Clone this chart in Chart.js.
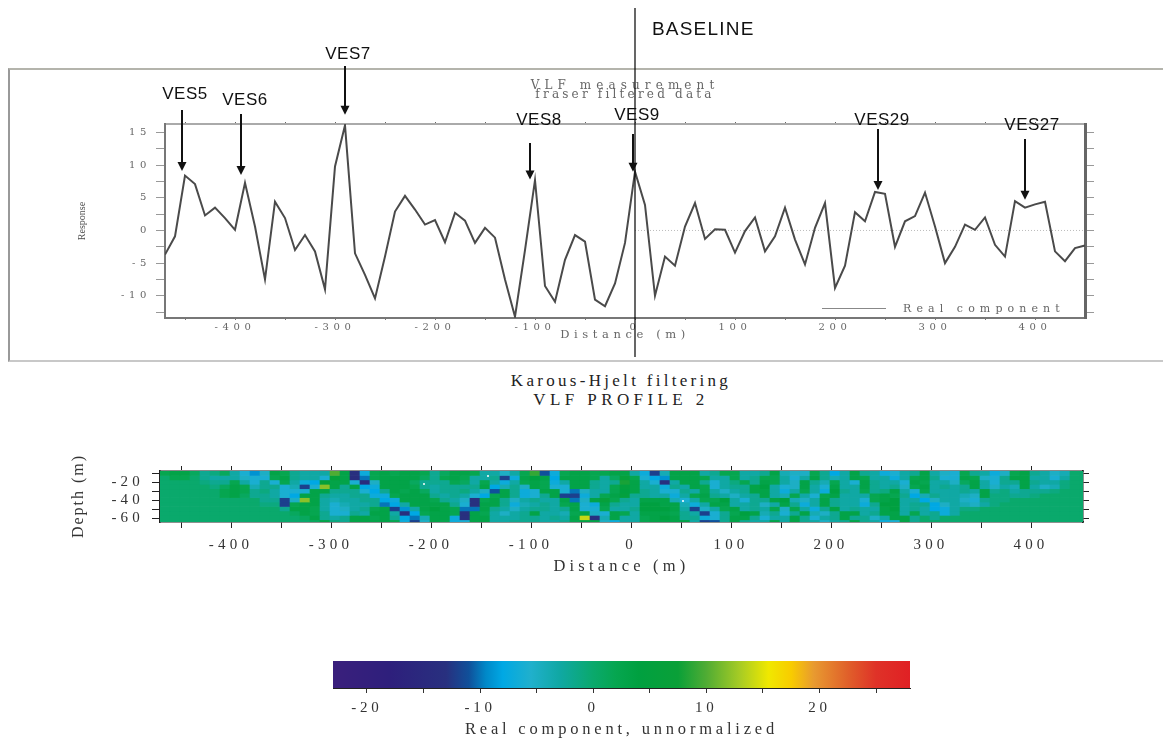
<!DOCTYPE html>
<html>
<head>
<meta charset="utf-8">
<title>VLF profile 2</title>
<script src="https://cdn.jsdelivr.net/npm/chart.js@4/dist/chart.umd.min.js"></script>
<style>
  html, body { margin: 0; padding: 0; background: #fff; overflow: hidden; }
  #page { position: relative; width: 1163px; height: 742px; }
  .box { position: absolute; }
  .box span { display: block; white-space: nowrap; }
  canvas { position: absolute; left: 0; }
  #frame { left: 8px; top: 68px; width: 1155px; height: 290px; box-sizing: content-box;
           border-left: 2px solid #999; border-top: 2px solid #b4b4ac; border-bottom: 2px solid #c8c8c8; }
  #titleTop { left: 425px; top: 81px; width: 400px; text-align: center; color: #666;
              font: 12px/9px "DejaVu Serif", serif; filter: blur(.4px); }
  #titleMid { left: 421px; top: 371px; width: 400px; text-align: center; color: #222;
              font: 17px/19px "Liberation Serif", serif; }
  #responseLabel { left: 82px; top: 221px; width: 60px; margin-left: -30px; margin-top: -7px; text-align: center; color: #555;
              font: 10px/14px "Liberation Serif", serif; transform: rotate(-90deg); filter: blur(.3px); }
  #depthLabel { left: 78px; top: 496px; width: 120px; margin-left: -60px; margin-top: -10px; text-align: center; color: #333;
              font: 16px/20px "Liberation Serif", serif; letter-spacing: 2px; transform: rotate(-90deg); filter: blur(.3px); }
  #topChart { top: 0; width: 1163px; height: 365px; }
  #heatChart { top: 440px; width: 1163px; height: 137px; filter: blur(.6px); }
  #barChart { top: 650px; width: 1163px; height: 92px; filter: blur(.25px); }
</style>
</head>
<body>
<div id="page">
  <div class="box" id="frame"></div>
  <div class="box" id="titleTop"><span style="letter-spacing:5.1px">VLF measurement</span><span style="letter-spacing:3.2px">fraser filtered data</span></div>
  <div class="box" id="titleMid"><span style="letter-spacing:3.3px">Karous-Hjelt filtering</span><span style="letter-spacing:4.4px">VLF PROFILE 2</span></div>
  <div class="box" id="responseLabel">Response</div>
  <div class="box" id="depthLabel">Depth (m)</div>
  <canvas id="topChart" width="1163" height="365"></canvas>
  <canvas id="heatChart" width="1163" height="137"></canvas>
  <canvas id="barChart" width="1163" height="92"></canvas>
</div>
<script>
// Fraser filtered response
const responseDistance = [-470,-460,-450,-440,-430,-420,-410,-400,-390,-380,-370,-360,-350,-340,-330,-320,-310,-300,-290,-280,-270,-260,-250,-240,-230,-220,-210,-200,-190,-180,-170,-160,-150,-140,-130,-120,-110,-100,-90,-80,-70,-60,-50,-40,-30,-20,-10,0,10,20,30,40,50,60,70,80,90,100,110,120,130,140,150,160,170,180,190,200,210,220,230,240,250,260,270,280,290,300,310,320,330,340,350,360,370,380,390,400,410,420,430,440,450];
const responseValues = [-3.7,-0.9,8.4,7.1,2.3,3.5,1.9,0.1,7.3,0.6,-7.5,4.4,1.9,-3,-0.7,-3.2,-9,9.8,16.1,-3.5,-6.8,-10.4,-4,2.9,5.3,3.2,0.9,1.6,-1.8,2.7,1.5,-1.9,0.4,-1.1,-7.5,-13.2,-3,7.7,-8.5,-10.9,-4.5,-0.7,-1.7,-10.6,-11.6,-8.1,-1.9,9,3.9,-10,-4,-5.4,0.6,4.2,-1.3,0.2,0.1,-3.4,-0.1,2,-3.2,-0.9,3.5,-1.4,-5.2,0.4,4.2,-8.8,-5.4,2.8,1.4,5.9,5.6,-2.5,1.4,2.2,5.8,0.6,-5,-2.5,0.9,0.1,2,-2.2,-4,4.5,3.5,4,4.4,-3.2,-4.7,-2.7,-2.3];
const zeroLineDistance = [0, 450];
const zeroLineValues = [0, 0];

const topXTicks = [-450,-400,-350,-300,-250,-200,-150,-100,-50,0,50,100,150,200,250,300,350,400];
const topXLabels = [-400,-300,-200,-100,0,100,200,300,400];
const topYTicks = [-12.5,-10,-7.5,-5,-2.5,0,2.5,5,7.5,10,12.5,15];
const topYLabels = [-10,-5,0,5,10,15];

// VES stations marked on the upper plot
const vesNames = ['VES5','VES6','VES7','VES8','VES9','VES29','VES27'];
const vesDistance = [-453,-394,-290,-105,-2,243,390];
const vesArrowTip = [9.1,8.5,17.7,7.8,9,6.2,4.7];

// Karous-Hjelt section: one row per depth, one value per 10 m column
const cellFirstDistance = -466;
const cellWidth = 10;
const cellDepthStep = 5;
const rowDepths = [-7,-12,-17,-22,-27,-32,-37,-42,-47,-52,-57,-62];
const row1 = [2,3,3,1,-2,-1,1,-3,-6,-9, -5,3,2,-2,-3,-3,-3,10,3,-13, -7,2,3,2,3,3,2,-2,1,3, 3,2,-3,-3,-5,-3,2,9,-11,-7, 2,3,3,2,2,3,3,-3,-7,-12, -4,3,3,3,-3,-2,2,2,-3,-3, -2,3,-4,-5,-5,2,-2,-8,-3,3, -2,-3,-7,-6,-3,-2,3,-3,-5,-6, 2,-2,-3,-7,-5,2,3,-2,-3,-5, -4,0,0];
const row2 = [0,2,2,0,-2,-3,-3,-3,-5,-6, -6,2,3,-2,-3,-3,-6,6,3,-14, -10,2,3,3,3,3,1,-2,2,3, 2,-3,-3,-2,-12,-7,3,4,3,-8, 3,3,3,2,-3,1,6,2,-6,-8, -9,3,3,3,2,-3,-3,2,-3,-2, 2,2,-3,-6,-3,3,-2,-4,-3,3, 2,-3,-3,-7,-3,2,3,-2,-6,-6, 3,2,-5,-6,-2,3,3,-3,-3,-6, -3,0,0];
const row3 = [0,0,0,0,-1,-2,-2,2,-3,-6, -2,-6,2,-3,-7,-8,6,3,3,-6, -14,-5,3,3,3,1,-2,-2,-2,2, 1,-3,2,-3,-7,-3,2,3,2,-7, -3,3,3,-2,-3,-2,8,3,-3,-6, -13,-3,3,3,-2,-6,-3,-1,2,-2, 3,2,-3,-5,3,-2,-4,2,-3,-6, 3,-2,-3,-3,-6,3,2,-3,-3,-5, 1,3,-3,-6,-2,-2,3,-2,-3,-3, -1,0,0];
const row4 = [0,0,0,0,0,-1,1,3,2,-4, -2,-2,-6,-4,-12,-6,12,3,-2,3, -8,-7,3,3,3,2,-2,-3,-2,-2, -2,-2,3,-8,-4,-2,-5,3,2,-6, -6,3,3,-2,-3,2,5,3,-3,-3, -7,-2,-3,3,2,-6,-3,-2,-2,3, 4,-3,-6,-5,3,-3,-6,3,-3,-3, 3,-2,-3,-2,-5,2,3,-3,-2,-3, -2,3,-3,-5,-3,-4,3,-3,-5,-4, -1,0,0];
const row5 = [0,0,0,0,0,0,2,3,2,-2, -1,-3,-6,-6,-6,3,3,-2,-2,-2, -6,-8,-2,3,2,3,1,-3,-2,-2, -1,-3,-5,-11,3,-2,-7,-6,3,3, -6,-10,-5,-3,-3,2,4,3,-2,-3, -6,-6,-2,-3,2,-3,-5,-3,-2,3, 3,-3,-7,-3,2,-3,-7,4,-2,-3, 2,-2,-1,3,-3,-6,2,-3,-3,-3, -2,-3,3,-2,-1,-3,-2,-2,-2,-1, 0,0,0];
const row6 = [0,0,0,0,0,0,2,3,1,-2, -2,-3,-6,-8,3,3,-2,-3,-3,-2, -2,-7,-7,2,3,3,3,-2,-3,-2, -3,-6,-8,2,3,-2,-7,-6,-2,3, -12,-12,-7,-3,2,3,5,-2,-2,-3, -3,-7,-3,2,3,-2,-3,-5,-3,-2, 3,-3,-4,2,-3,-6,2,3,-3,-3, -3,2,3,2,-2,-8,-4,-2,-3,-3, -4,-5,3,-1,-1,-2,-2,-1,0,0, 0,0,0];
const row7 = [0,0,0,0,0,0,0,0,0,0, -2,-2,-12,-5,12,3,-3,-4,-3,-3, -2,-2,-8,-7,3,3,3,2,-2,-3, -5,-13,2,3,-2,-5,-3,-2,-3,-3, 3,-10,-5,3,6,2,-2,-3,3,3, 3,-4,-6,-3,2,2,4,-3,-6,-2, -2,3,4,-4,-5,-3,3,-2,-3,-3, -6,2,3,4,-3,-3,-8,-5,-3,-3, -5,-6,-2,-1,-1,0,0,0,0,0, 0,0,0];
const row8 = [0,0,0,0,0,0,0,0,0,0, -1,-1,-12,2,3,3,-3,-6,-4,-3, -3,-2,-10,-8,-3,3,3,3,3,-2, -6,-13,3,3,-2,-7,-4,-3,-2,-3, 2,3,-6,-7,3,-2,-3,-3,4,4, 3,3,-4,-7,-3,3,3,-3,-3,-2, -5,-3,3,-2,-7,-3,3,-2,-3,-3, -7,-2,4,4,-3,-2,-2,-8,-5,-3, -4,-5,-3,-1,0,0,0,0,0,0, 0,0,0];
const row9 = [0,0,0,0,0,0,0,0,0,0, 0,0,-2,3,3,2,-3,-6,-5,-3, -2,2,3,-12,-9,-3,3,4,3,2, -10,-10,3,-2,-3,-5,-3,-2,-2,-3, -2,3,-6,-6,2,-3,-3,-2,4,4, 4,3,-3,-12,-5,-3,2,3,-3,-2, -3,2,-5,2,-3,-7,-2,3,-3,-2, -3,-3,3,4,-3,-2,-3,-8,-7,-3, -1,-1,0,0,0,0,0,0,0,0, 0,0,0];
const row10 = [0,0,0,0,0,0,0,0,0,0, 0,0,0,1,3,2,-2,-6,-6,-2, -3,3,3,-3,-13,-8,2,3,3,2, -13,3,2,-3,-5,-3,-2,3,-3,-3, -4,2,3,-5,-6,3,2,-3,3,3, 3,2,-2,-3,-12,-6,-2,2,4,3, -4,-2,-6,-2,3,-4,-5,-2,3,3, -3,-2,3,3,-3,2,-3,-2,-7,-3, 0,0,0,0,0,0,0,0,0,0, 0,0,0];
const row11 = [0,0,0,0,0,0,0,0,0,0, 0,0,0,0,1,3,-2,-3,-2,3, 3,2,3,-2,-8,-10,-4,3,3,-7, -13,3,3,-3,-3,-3,-2,-2,-3,-2, -3,3,14,-13,-4,3,-3,-3,2,3, 4,3,-2,-2,-7,-6,-2,3,3,-2, -6,-3,-3,3,-2,-6,-3,-2,3,-2, -2,-5,-3,3,3,-2,0,-2,0,0, 0,0,0,0,0,0,0,0,0,0, 0,0,0];
const row12 = [0,0,0,0,0,0,0,0,0,0, 0,0,0,0,0,1,3,-1,-2,3, 3,3,3,2,-7,-12,-5,3,2,-7, -6,3,3,-3,-3,-2,-2,-2,-3,-3, -2,2,3,3,-5,-7,-3,-3,2,3, 3,3,3,-3,-12,-11,-2,3,-2,-3, -3,3,-3,3,-2,-3,-5,-3,-2,3, -2,-3,-7,-6,3,-2,0,0,0,0, 0,0,0,0,0,0,0,0,0,0, 0,0,0];
const heatRows = [row1,row2,row3,row4,row5,row6,row7,row8,row9,row10,row11,row12];

// small white specks in the section
const speckDistance = [-207,-143,52];
const speckDepth = [-21.7,-12.7,-40.8];

const heatXTicks = topXTicks;
const heatXLabels = topXLabels;
const heatYTicks = [-10,-20,-30,-40,-50,-60];
const heatYLabels = [-20,-40,-60];

// colour bar
const stopValues = [-23,-18,-13,-11,-9.5,-8,-5.5,-3,0,2,4,7.5,10,13,15.5,17.5,19.5,22.5,25,28];
const stopColours = ['#3a1f7c','#2e1f7c','#28307f','#10509a','#0088c8','#00a8e4','#20b0cc','#10a8a4','#0aa96c','#06a650','#00a040','#0aa038','#50ac34','#a8cc24','#f0e800','#f8cc00','#e89a30','#e0602a','#df3228','#e02024'];
const barTicks = [-20,-15,-10,-5,0,5,10,15,20,25];
const barLabels = [-20,-10,0,10,20];

Chart.defaults.animation = false;
Chart.defaults.responsive = false;
Chart.defaults.plugins.legend.display = false;
Chart.defaults.plugins.tooltip.enabled = false;

function hexToRgb(h) {
  return [1, 3, 5].map(i => parseInt(h.slice(i, i + 2), 16));
}

// value -> colour, same ramp as the colour bar
function colourFor(v) {
  let i = 0;
  while (i < stopValues.length - 2 && v > stopValues[i + 1]) i++;
  const t = Math.min(1, Math.max(0, (v - stopValues[i]) / (stopValues[i + 1] - stopValues[i])));
  const a = hexToRgb(stopColours[i]), b = hexToRgb(stopColours[i + 1]);
  return `rgb(${a.map((c, k) => Math.round(c + (b[k] - c) * t)).join(',')})`;
}

function tickSet(values) {
  return s => { s.ticks = values.map(v => ({ value: v })); };
}

function labelOnly(list) {
  return v => (list.includes(v) ? String(v) : '');
}

function spaced(px, blur) {
  return {
    id: 'spaced',
    beforeDraw(chart) {
      chart.ctx.letterSpacing = px + 'px';
      if (blur) chart.ctx.filter = `blur(${blur}px)`;
    },
    afterDraw(chart) {
      chart.ctx.letterSpacing = '0px';
      chart.ctx.filter = 'none';
    }
  };
}

// arrows, station names, baseline and the legend of the upper plot
const vesLabelPos = [[185,94],[245,100],[348,54],[539,120],[637,115],[882,120],[1032,125]];
const vesTailY = [110,114,66,143,134,129,139];
const notes = {
  id: 'notes',
  afterDraw(chart) {
    const { ctx, scales } = chart;
    ctx.save();
    // legend
    ctx.strokeStyle = '#888';
    ctx.lineWidth = 1;
    ctx.beginPath();
    ctx.moveTo(822, 308.5);
    ctx.lineTo(886, 308.5);
    ctx.stroke();
    ctx.fillStyle = '#666';
    ctx.font = '11px "DejaVu Serif"';
    ctx.letterSpacing = '5.1px';
    ctx.textAlign = 'left';
    ctx.textBaseline = 'middle';
    ctx.filter = 'blur(.4px)';
    ctx.fillText('Real component', 903, 309);
    ctx.filter = 'none';
    ctx.letterSpacing = '0px';

    // baseline through distance 0
    const bx = scales.x.getPixelForValue(0);
    ctx.strokeStyle = '#000';
    ctx.lineWidth = 1.2;
    ctx.beginPath();
    ctx.moveTo(bx, 8);
    ctx.lineTo(bx, 357);
    ctx.stroke();

    ctx.fillStyle = '#111';
    ctx.textAlign = 'left';
    ctx.font = '19px "Liberation Sans"';
    ctx.letterSpacing = '1.2px';
    ctx.fillText('BASELINE', 652, 30);

    ctx.textAlign = 'center';
    ctx.font = '17px "Liberation Sans"';
    ctx.letterSpacing = '0.5px';
    vesNames.forEach((name, i) => {
      const x = scales.x.getPixelForValue(vesDistance[i]);
      const tip = scales.y.getPixelForValue(vesArrowTip[i]);
      ctx.fillStyle = '#111';
      ctx.fillText(name, vesLabelPos[i][0], vesLabelPos[i][1]);
      ctx.strokeStyle = '#111';
      ctx.lineWidth = 2;
      ctx.beginPath();
      ctx.moveTo(x, vesTailY[i]);
      ctx.lineTo(x, tip - 6);
      ctx.stroke();
      ctx.beginPath();
      ctx.moveTo(x, tip);
      ctx.lineTo(x - 4.5, tip - 9);
      ctx.lineTo(x + 4.5, tip - 9);
      ctx.closePath();
      ctx.fill();
    });
    ctx.restore();
  }
};

const topFont = { family: '"DejaVu Serif"', size: 10 };

new Chart(document.getElementById('topChart'), {
  type: 'scatter',
  data: {
    datasets: [
      {
        data: responseDistance.map((d, i) => ({ x: d, y: responseValues[i] })),
        showLine: true, borderColor: '#4a4a4a', borderWidth: 2, pointRadius: 0, tension: 0, order: 1
      },
      {
        data: zeroLineDistance.map((d, i) => ({ x: d, y: zeroLineValues[i] })),
        showLine: true, borderColor: '#bdbdbd', borderWidth: 1, borderDash: [1, 2], pointRadius: 0, order: 2
      }
    ]
  },
  options: {
    layout: { padding: { left: 76, top: 118, right: 0, bottom: 23 } },
    scales: {
      x: {
        type: 'linear', min: -470, max: 450, position: 'bottom',
        afterBuildTicks: tickSet(topXTicks),
        afterFit: s => { s.height = 24; },
        grid: { drawOnChartArea: false, tickLength: 2, tickColor: '#777' },
        border: { color: '#777', width: 2 },
        ticks: { callback: labelOnly(topXLabels), autoSkip: false, maxRotation: 0, color: '#666', font: topFont, padding: 1 },
        title: { display: true, text: 'Distance (m)', color: '#666', font: { family: '"DejaVu Serif"', size: 11.5 }, padding: 0 }
      },
      x2: {
        type: 'linear', axis: 'x', min: -470, max: 450, position: 'top',
        afterBuildTicks: tickSet(topXTicks),
        afterFit: s => { s.height = 6; },
        grid: { drawOnChartArea: false, tickLength: 2, tickColor: '#666' },
        border: { color: '#aaa', width: 2 },
        ticks: { callback: () => '', autoSkip: false, maxRotation: 0, padding: 0 }
      },
      y: {
        type: 'linear', min: -13.4, max: 16.3,
        afterBuildTicks: tickSet(topYTicks),
        afterFit: s => { s.width = 89; },
        grid: { drawOnChartArea: false, tickLength: 9, tickColor: '#999' },
        border: { color: '#777', width: 2 },
        ticks: { callback: labelOnly(topYLabels), autoSkip: false, color: '#666', font: topFont, padding: 5 }
      },
      y2: {
        type: 'linear', axis: 'y', min: -13.4, max: 16.3, position: 'right',
        afterBuildTicks: tickSet(topYTicks),
        afterFit: s => { s.width = 78; },
        grid: { drawOnChartArea: false, tickLength: 9, tickColor: '#999' },
        border: { color: '#666', width: 3 },
        ticks: { callback: () => '', autoSkip: false }
      }
    }
  },
  plugins: [spaced(4.6, 0.5), notes]
});

const heatFont = { family: '"Liberation Serif"', size: 15 };

new Chart(document.getElementById('heatChart'), {
  type: 'bar',
  data: {
    datasets: [
      {
        type: 'scatter',
        data: speckDistance.map((d, i) => ({ x: d, y: speckDepth[i] })),
        pointRadius: 1, pointBackgroundColor: '#fff', pointBorderWidth: 0, order: 0
      },
      ...heatRows.map((row, r) => ({
        data: row.map((v, c) => ({
          x: cellFirstDistance + c * cellWidth,
          y: [rowDepths[r], rowDepths[r] - cellDepthStep],
          v
        })),
        backgroundColor: ctx => colourFor(ctx.raw.v),
        barPercentage: 1, categoryPercentage: 1, grouped: false, order: 1
      }))
    ]
  },
  options: {
    layout: { padding: { left: 68, top: 25, right: 0, bottom: 0 } },
    scales: {
      x: {
        type: 'linear', min: -471, max: 452, position: 'bottom', offset: false,
        afterBuildTicks: tickSet(heatXTicks),
        afterFit: s => { s.height = 55; },
        grid: { drawOnChartArea: false, offset: false, tickLength: 6, tickColor: '#222' },
        border: { color: '#222', width: 1.5 },
        ticks: { callback: labelOnly(heatXLabels), autoSkip: false, maxRotation: 0, color: '#333', font: heatFont, padding: 8 },
        title: { display: true, text: 'Distance (m)', color: '#333', font: { family: '"Liberation Serif"', size: 16.5 }, padding: 0 }
      },
      x2: {
        type: 'linear', axis: 'x', min: -471, max: 452, position: 'top', offset: false,
        afterBuildTicks: tickSet(heatXTicks),
        afterFit: s => { s.height = 6; },
        grid: { drawOnChartArea: false, offset: false, tickLength: 5, tickColor: '#222' },
        border: { color: '#888', width: 2 },
        ticks: { callback: () => '', autoSkip: false, maxRotation: 0, padding: 0 }
      },
      y: {
        type: 'linear', min: -64.5, max: -7,
        afterBuildTicks: tickSet(heatYTicks),
        afterFit: s => { s.width = 92; },
        grid: { drawOnChartArea: false, tickLength: 8, tickColor: '#222' },
        border: { color: '#222', width: 1.5 },
        ticks: { callback: labelOnly(heatYLabels), autoSkip: false, color: '#333', font: heatFont, padding: 8 }
      },
      y2: {
        type: 'linear', axis: 'y', min: -64.5, max: -7, position: 'right',
        afterBuildTicks: tickSet(heatYTicks),
        afterFit: s => { s.width = 80; },
        grid: { drawOnChartArea: false, tickLength: 6, tickColor: '#222' },
        border: { color: '#222', width: 1.5 },
        ticks: { callback: () => '', autoSkip: false }
      }
    }
  },
  plugins: [spaced(4.2, 0)]
});

new Chart(document.getElementById('barChart'), {
  type: 'bar',
  data: {
    labels: ['Real component'],
    datasets: [{
      data: [[stopValues[0], stopValues[stopValues.length - 1]]],
      barPercentage: 1,
      categoryPercentage: 1,
      backgroundColor: ctx => {
        const chart = ctx.chart;
        if (!chart.chartArea) return stopColours[0];
        const x = chart.scales.x;
        const first = stopValues[0], last = stopValues[stopValues.length - 1];
        const g = chart.ctx.createLinearGradient(x.getPixelForValue(first), 0, x.getPixelForValue(last), 0);
        stopValues.forEach((v, i) => g.addColorStop((v - first) / (last - first), stopColours[i]));
        return g;
      }
    }]
  },
  options: {
    indexAxis: 'y',
    layout: { padding: { left: 333, top: 11, right: 253, bottom: 0 } },
    scales: {
      x: {
        type: 'linear', min: -23, max: 28,
        afterBuildTicks: tickSet(barTicks),
        afterFit: s => { s.height = 54; },
        grid: { drawOnChartArea: false, tickLength: 5, tickColor: '#333' },
        border: { color: '#222', width: 1 },
        ticks: { callback: labelOnly(barLabels), autoSkip: false, maxRotation: 0, color: '#333', font: heatFont, padding: 6 },
        title: { display: true, text: 'Real component, unnormalized', color: '#333', font: { family: '"Liberation Serif"', size: 16.5 }, padding: 2 }
      },
      y: { display: false }
    }
  },
  plugins: [spaced(3.8, 0)]
});
</script>
</body>
</html>
